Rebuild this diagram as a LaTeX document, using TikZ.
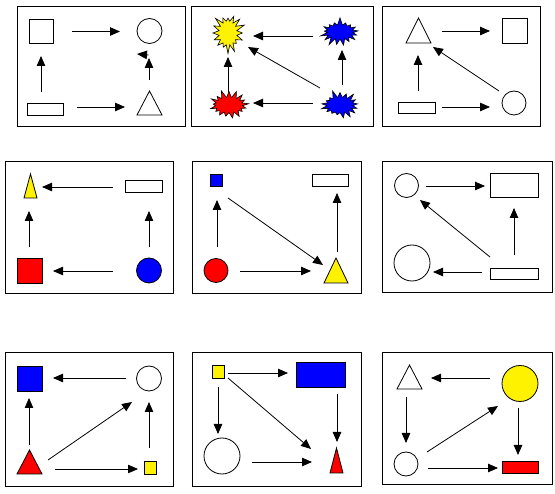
\documentclass[tikz,border=0pt]{standalone}
\usetikzlibrary{arrows.meta,shapes.symbols,calc}
\newcommand\lnk[4]{\draw[arr] ($(#1)+#2$) -- ($(#3)+#4$);}
\begin{document}
\begin{tikzpicture}[x=1pt,y=-1pt,
  frame/.style={draw,line width=1pt},
  shp/.style={draw,line width=0.8pt,inner sep=0pt,outer sep=0pt},
  tribox/.style={inner sep=0pt,outer sep=0pt},
  ball/.style={shp,circle,minimum size=#1},
  burst/.style={shape=starburst,draw,line width=0.6pt,inner sep=0pt,outer sep=0pt,starburst points=17,starburst point height=8pt},
  arr/.style={line width=0.8pt,-{Triangle[length=10pt,width=8.5pt]}}]
\useasboundingbox (0,0) rectangle (555,494);
\fill[white] (0,0) rectangle (555,494);
% frames
\draw[frame] (17,7) rectangle (185,127);
\draw[frame] (191,7) rectangle (373,127);
\draw[frame] (382,7) rectangle (540,127);
\draw[frame] (5,162) rectangle (173,294);
\draw[frame] (192,162) rectangle (361,294);
\draw[frame] (382,162) rectangle (552,293);
\draw[frame] (5,353) rectangle (173,487);
\draw[frame] (192,353) rectangle (361,487);
\draw[frame] (382,353) rectangle (552,485);

% ---- panel 1
\node[shp,minimum width=24pt,minimum height=24pt] (sq1) at (41,31) {};
\node[ball=25pt] (circ1) at (149.5,31) {};
\node[shp,minimum width=36pt,minimum height=12pt] (rect1) at (45,109) {};
\node[tribox,minimum width=25pt,minimum height=24pt] (tri1) at (149.5,103) {};
\draw[shp] (tri1.south west) -- (tri1.north) -- (tri1.south east) -- cycle;
\lnk{sq1}{(31,0.5)}{circ1}{(-29.5,0.5)}
\lnk{rect1}{(32,-2)}{tri1}{(-24.5,4)}
\lnk{rect1}{(-4,-17)}{sq1}{(0,25)}
\lnk{tri1}{(-0.5,-23)}{circ1}{(-0.5,27)}
\lnk{tri1}{(-1,-48)}{circ1}{(-12.5,23)}

% ---- panel 2
\node[burst,fill=yellow,minimum width=36pt,minimum height=42pt,starburst points=16,starburst point height=9pt,random starburst=3] (ys2) at (228,33) {};
\node[burst,fill=blue,minimum width=42pt,minimum height=30pt,random starburst=7] (bs2a) at (340,32) {};
\node[burst,fill=red,minimum width=43pt,minimum height=31pt,random starburst=11] (rs2) at (229,105) {};
\node[burst,fill=blue,minimum width=42pt,minimum height=31pt,random starburst=5] (bs2b) at (340,105) {};
\lnk{bs2a}{(-27,4)}{ys2}{(25,3)}
\lnk{bs2b}{(-27,-2)}{rs2}{(24,-2)}
\lnk{rs2}{(-1,-13)}{ys2}{(0,24)}
\lnk{bs2b}{(2,-20)}{bs2a}{(2,18)}
\lnk{bs2b}{(-20,-17)}{ys2}{(20,14)}

% ---- panel 3
\node[tribox,minimum width=25pt,minimum height=25pt] (tri3) at (418.5,30.5) {};
\draw[shp] (tri3.south west) -- (tri3.north) -- (tri3.south east) -- cycle;
\node[shp,minimum width=25pt,minimum height=25pt] (sq3) at (514.5,30.5) {};
\node[shp,minimum width=37pt,minimum height=11pt] (rect3) at (416.5,108) {};
\node[ball=24pt] (circ3) at (514,103) {};
\lnk{tri3}{(23.5,0.5)}{sq3}{(-24.5,0.5)}
\lnk{rect3}{(25.5,-1)}{circ3}{(-24,4)}
\lnk{rect3}{(1.5,-17)}{tri3}{(-0.5,24.5)}
\lnk{circ3}{(-15,-12)}{tri3}{(14.5,16.5)}

% ---- panel 4
\node[tribox,minimum width=13pt,minimum height=24pt] (ytri4) at (30.5,186) {};
\draw[shp,fill=yellow] (ytri4.south west) -- (ytri4.north) -- (ytri4.south east) -- cycle;
\node[shp,minimum width=37pt,minimum height=12pt] (rect4) at (143.5,186) {};
\node[shp,fill=red,minimum width=25pt,minimum height=25pt] (rsq4) at (29.5,270.5) {};
\node[ball=25pt,fill=blue] (bc4) at (149,270.5) {};
\lnk{rect4}{(-30.5,1)}{ytri4}{(11.5,1)}
\lnk{bc4}{(-36,0.5)}{rsq4}{(23.5,0.5)}
\lnk{rsq4}{(-0.5,-23.5)}{ytri4}{(-1.5,25)}
\lnk{bc4}{(0,-23.5)}{rect4}{(5.5,25)}

% ---- panel 5
\node[shp,fill=blue,minimum width=12pt,minimum height=12pt] (bsq5) at (216,180.5) {};
\node[shp,minimum width=36pt,minimum height=12pt] (rect5) at (330,180) {};
\node[ball=24pt,fill=red] (rc5) at (216,270.5) {};
\node[tribox,minimum width=24pt,minimum height=25pt] (ytri5) at (336,270.5) {};
\draw[shp,fill=yellow] (ytri5.south west) -- (ytri5.north) -- (ytri5.south east) -- cycle;
\lnk{rc5}{(1,-23.5)}{bsq5}{(1,19.5)}
\lnk{rc5}{(24,0.5)}{ytri5}{(-25,0.5)}
\lnk{ytri5}{(1,-18.5)}{rect5}{(7,13)}
\lnk{bsq5}{(12,17.5)}{ytri5}{(-13,-5.5)}

% ---- panel 6
\node[ball=24pt] (c6a) at (406.5,185.5) {};
\node[shp,minimum width=48pt,minimum height=24pt] (r6a) at (514,185) {};
\node[ball=36pt] (c6b) at (412,263) {};
\node[shp,minimum width=48pt,minimum height=11pt] (r6b) at (514,273.5) {};
\lnk{c6a}{(19.5,0.5)}{r6a}{(-29,1)}
\lnk{r6b}{(-32,-1.5)}{c6b}{(21,9)}
\lnk{r6b}{(0,-18.5)}{r6a}{(0,23)}
\lnk{r6b}{(-24,-16.5)}{c6a}{(13.5,14.5)}

% ---- panel 7
\node[shp,fill=blue,minimum width=25pt,minimum height=25pt] (bsq7) at (29.5,378.5) {};
\node[ball=25pt] (c7) at (149,378.5) {};
\node[tribox,minimum width=25pt,minimum height=24pt] (rtri7) at (29.5,462) {};
\draw[shp,fill=red] (rtri7.south west) -- (rtri7.north) -- (rtri7.south east) -- cycle;
\node[shp,fill=yellow,minimum width=12.5pt,minimum height=12.5pt] (ysq7) at (150.5,468) {};
\lnk{c7}{(-23,-0.5)}{bsq7}{(23.5,-0.5)}
\lnk{rtri7}{(-0.5,-17)}{bsq7}{(-0.5,19.5)}
\lnk{ysq7}{(-1.5,-20)}{c7}{(0,23.5)}
\lnk{rtri7}{(18.5,-2)}{c7}{(-17,23.5)}
\lnk{rtri7}{(25.5,7)}{ysq7}{(-12.5,1)}

% ---- panel 8
\node[shp,fill=yellow,minimum width=12.5pt,minimum height=12.5pt] (ysq8) at (218.5,372) {};
\node[shp,fill=blue,minimum width=49pt,minimum height=25pt] (br8) at (320.5,374.5) {};
\node[ball=36pt] (c8) at (222,456) {};
\node[tribox,minimum width=13pt,minimum height=25pt] (rtri8) at (336.5,460.5) {};
\draw[shp,fill=red] (rtri8.south west) -- (rtri8.north) -- (rtri8.south east) -- cycle;
\lnk{ysq8}{(9.5,1)}{br8}{(-32.5,-1.5)}
\lnk{ysq8}{(-0.5,15)}{c8}{(-4,-22)}
\lnk{br8}{(16.5,19.5)}{rtri8}{(0.5,-18.5)}
\lnk{ysq8}{(9.5,6)}{rtri8}{(-25.5,-11.5)}
\lnk{c8}{(30,6)}{rtri8}{(-24.5,1.5)}

% ---- panel 9
\node[tribox,minimum width=25pt,minimum height=24pt] (tri9) at (409.5,377) {};
\draw[shp] (tri9.south west) -- (tri9.north) -- (tri9.south east) -- cycle;
\node[ball=36pt,fill=yellow] (yc9) at (520,383.5) {};
\node[ball=24pt] (c9) at (406,464) {};
\node[shp,fill=red,minimum width=36pt,minimum height=12pt] (rr9) at (520,467) {};
\lnk{yc9}{(-30,-5.5)}{tri9}{(21.5,1)}
\lnk{tri9}{(-3.5,20)}{c9}{(0,-21)}
\lnk{yc9}{(-2,24.5)}{rr9}{(-2,-12)}
\lnk{c9}{(21,-12)}{yc9}{(-22,22.5)}
\lnk{c9}{(22,4)}{rr9}{(-22,1)}
\end{tikzpicture}
\end{document}
